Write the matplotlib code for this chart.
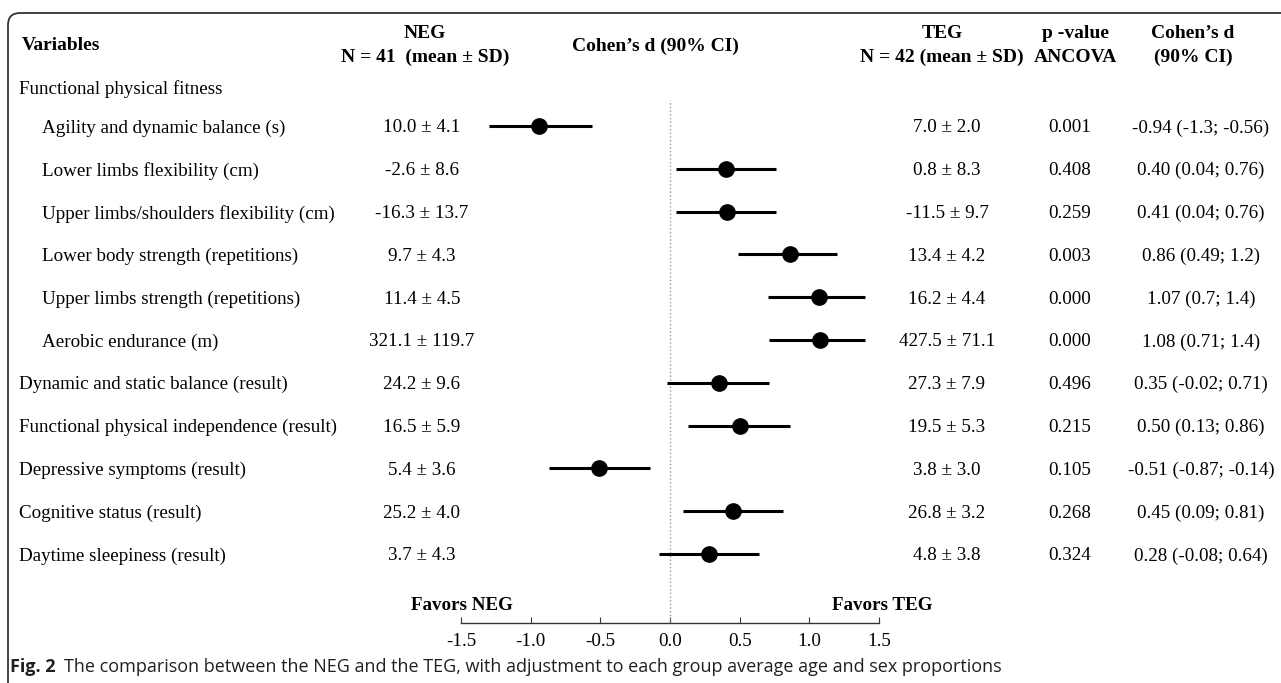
import matplotlib
matplotlib.use("Agg")
import matplotlib.pyplot as plt
import matplotlib.transforms as mtransforms
from matplotlib.patches import FancyBboxPatch

W, H = 1281, 683

variables = [
    "Agility and dynamic balance (s)",
    "Lower limbs flexibility (cm)",
    "Upper limbs/shoulders flexibility (cm)",
    "Lower body strength (repetitions)",
    "Upper limbs strength (repetitions)",
    "Aerobic endurance (m)",
    "Dynamic and static balance (result)",
    "Functional physical independence (result)",
    "Depressive symptoms (result)",
    "Cognitive status (result)",
    "Daytime sleepiness (result)",
]
indented = [True, True, True, True, True, True, False, False, False, False, False]
neg = ["10.0 ± 4.1", "-2.6 ± 8.6", "-16.3 ± 13.7", "9.7 ± 4.3", "11.4 ± 4.5",
       "321.1 ± 119.7", "24.2 ± 9.6", "16.5 ± 5.9", "5.4 ± 3.6", "25.2 ± 4.0", "3.7 ± 4.3"]
teg = ["7.0 ± 2.0", "0.8 ± 8.3", "-11.5 ± 9.7", "13.4 ± 4.2", "16.2 ± 4.4",
       "427.5 ± 71.1", "27.3 ± 7.9", "19.5 ± 5.3", "3.8 ± 3.0", "26.8 ± 3.2", "4.8 ± 3.8"]
p_values = ["0.001", "0.408", "0.259", "0.003", "0.000", "0.000",
            "0.496", "0.215", "0.105", "0.268", "0.324"]
d = [-0.94, 0.40, 0.41, 0.86, 1.07, 1.08, 0.35, 0.50, -0.51, 0.45, 0.28]
d_low = [-1.3, 0.04, 0.04, 0.49, 0.7, 0.71, -0.02, 0.13, -0.87, 0.09, -0.08]
d_high = [-0.56, 0.76, 0.76, 1.2, 1.4, 1.4, 0.71, 0.86, -0.14, 0.81, 0.64]
d_text = ["-0.94 (-1.3; -0.56)", "0.40 (0.04; 0.76)", "0.41 (0.04; 0.76)",
          "0.86 (0.49; 1.2)", "1.07 (0.7; 1.4)", "1.08 (0.71; 1.4)",
          "0.35 (-0.02; 0.71)", "0.50 (0.13; 0.86)", "-0.51 (-0.87; -0.14)",
          "0.45 (0.09; 0.81)", "0.28 (-0.08; 0.64)"]
x_ticks = [-1.5, -1.0, -0.5, 0.0, 0.5, 1.0, 1.5]

plt.rcParams['font.family'] = ['Liberation Serif', 'DejaVu Serif']
FS = 13.7
FS_HDR = 14


def fx(px):
    return px / W


def fy(py):
    return 1 - py / H


fig = plt.figure(figsize=(W / 100, H / 100), dpi=100)

# forest plot axes: x -1.5..1.5 spans px 461..879, rows start at px 126
row0, step = 126, 42.8
top_px, axis_px = 100, 623
ax = fig.add_axes([fx(461), fy(axis_px), (879 - 461) / W, (axis_px - top_px) / H])
ax.set_xlim(-1.5, 1.5)
ax.set_ylim((axis_px - row0) / step, (top_px - row0) / step)
rows = list(range(len(variables)))

ax.axvline(0, color='#9a9a9a', ls=':', lw=1)
ax.hlines(rows, d_low, d_high, color='black', lw=2.2)
ax.plot(d, rows, 'o', color='black', ms=11)

for s in ['top', 'left', 'right']:
    ax.spines[s].set_visible(False)
ax.spines['bottom'].set_color('#333333')
ax.spines['bottom'].set_linewidth(1)
ax.set_yticks([])
ax.set_xticks(x_ticks)
ax.set_xticklabels([f"{t:.1f}" for t in x_ticks])
ax.tick_params(axis='x', direction='in', length=4, labelsize=FS, pad=7, color='#333333')

# table columns
trans = mtransforms.blended_transform_factory(fig.transFigure, ax.transData)
cell = dict(transform=trans, va='center_baseline', fontsize=FS)
for i in rows:
    ax.text(fx(42 if indented[i] else 19), i, variables[i], ha='left', **cell)
    ax.text(fx(422), i, neg[i], ha='center', **cell)
    ax.text(fx(947), i, teg[i], ha='center', **cell)
    ax.text(fx(1070), i, p_values[i], ha='center', **cell)
    ax.text(fx(1201), i, d_text[i], ha='center', **cell)
ax.text(fx(19), -0.9, "Functional physical fitness", ha='left', **cell)

# headers
hdr = dict(fontsize=FS_HDR, fontweight='bold', va='center', ha='center')
fig.text(fx(22), fy(46), "Variables", **{**hdr, 'ha': 'left'})
fig.text(fx(425), fy(34), "NEG", **hdr)
fig.text(fx(425), fy(57), "N = 41  (mean ± SD)", **hdr)
fig.text(fx(655), fy(46), "Cohen’s d (90% CI)", **hdr)
fig.text(fx(942), fy(34), "TEG", **hdr)
fig.text(fx(942), fy(57), "N = 42 (mean ± SD)", **hdr)
fig.text(fx(1076), fy(34), "p -value", **hdr)
fig.text(fx(1076), fy(57), "ANCOVA", **hdr)
fig.text(fx(1193), fy(34), "Cohen’s d", **hdr)
fig.text(fx(1193), fy(57), "(90% CI)", **hdr)

fig.text(fx(411), fy(606), "Favors NEG", fontsize=FS, fontweight='bold', va='center', ha='left')
fig.text(fx(832), fy(606), "Favors TEG", fontsize=FS, fontweight='bold', va='center', ha='left')

# rounded frame (open at right and bottom)
frame = FancyBboxPatch((8, -60), 1400, H - 13 + 60,
                       boxstyle="round,pad=0,rounding_size=12",
                       fill=False, edgecolor='#333333', lw=1.3,
                       transform=mtransforms.IdentityTransform())
fig.add_artist(frame)

# caption
cap1 = fig.text(fx(10), fy(667), "Fig. 2", family='Open Sans', fontweight='bold',
                fontsize=13, va='center', ha='left', color='#231f20')
fig.canvas.draw()
bb = cap1.get_window_extent()
fig.text((bb.x1 + 8) / W, fy(667),
         "The comparison between the NEG and the TEG, with adjustment to each group average age and sex proportions",
         family='Open Sans', fontsize=13, va='center', ha='left', color='#231f20')

fig.savefig("out.png", dpi=100)
